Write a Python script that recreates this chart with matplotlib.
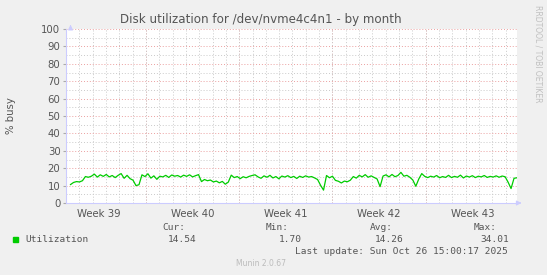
import numpy as np
import matplotlib.pyplot as plt

# Munin disk utilization, by month (time in days since Mon 29 Sep 2025 00:00)
t_start, t_end = -5.66, 27.85
utilization = [
    10.6, 11.8, 12.3, 12.1, 12.8, 15.2, 14.8, 15.4, 16.6, 14.9,
    16.2, 15.3, 16.4, 15.0, 15.8, 14.6, 15.9, 16.9, 14.2, 15.9,
    14.0, 13.1, 10.0, 10.5, 16.2, 15.2, 16.8, 14.3, 15.6, 13.6,
    15.4, 15.0, 15.9, 14.7, 16.1, 15.4, 15.8, 14.9, 16.0, 15.3,
    16.2, 15.0, 15.7, 16.3, 12.3, 13.5, 12.8, 13.2, 12.1, 12.6,
    11.6, 12.4, 10.8, 12.0, 16.0, 14.6, 15.2, 14.0, 15.1, 14.5,
    15.3, 15.8, 16.2, 15.0, 14.2, 15.6, 14.8, 15.9, 14.4, 15.2,
    13.9, 15.5, 14.9, 15.7, 14.6, 15.3, 14.1, 15.4, 14.7, 15.6,
    14.9, 15.2, 14.4, 13.5, 10.2, 7.4, 15.8, 14.5, 15.4, 13.0,
    12.5, 11.5, 12.6, 12.2, 13.1, 15.2, 14.3, 15.9, 15.0, 16.3,
    14.8, 15.6, 14.7, 13.8, 9.4, 15.5, 16.2, 15.0, 16.4, 15.1,
    15.8, 17.6, 15.4, 15.9, 14.8, 13.2, 9.6, 13.8, 16.9, 15.3,
    14.6, 15.4, 14.9, 15.8, 14.5, 15.2, 14.7, 15.9, 14.6, 15.3,
    14.8, 16.0, 14.4, 15.5, 14.9, 15.7, 14.6, 15.4, 15.0, 15.8,
    14.7, 15.3, 14.9, 15.6, 14.8, 15.5, 15.1, 12.0, 8.3, 14.2,
    14.5,
]
week_starts = [-7, 0, 7, 14, 21, 28]
week_labels = ['Week 39', 'Week 40', 'Week 41', 'Week 42', 'Week 43']
stats_names = ['Cur:', 'Min:', 'Avg:', 'Max:']
stats_values = ['14.54', '1.70', '14.26', '34.01']

W, H = 547, 275
GREEN = '#00cc00'
TXT = '#555555'
MAJOR = '#eba0a0'
MINOR = '#cacaca'


def px(x, y):
    return x / W, 1 - y / H


fig = plt.figure(figsize=(W / 100, H / 100), dpi=100, facecolor='#f0f0f0')
ax = fig.add_axes([66 / W, 72 / H, 451 / W, 174 / H])
ax.set_facecolor('white')

times = np.linspace(t_start, t_end, len(utilization))
ax.plot(times, utilization, color=GREEN, lw=0.9, zorder=3)

ax.set_xlim(t_start, t_end)
ax.set_ylim(0, 100)

# grid: minor per day / 5 %, major per week / 10 %
days = np.arange(-6, 28)
ax.set_xticks(days, minor=True)
ax.set_yticks(np.arange(0, 101, 10))
ax.set_yticks(np.arange(5, 100, 10), minor=True)
ax.grid(which='minor', color=MINOR, ls=(0, (1, 2)), lw=0.7)
ax.grid(which='major', axis='y', color=MAJOR, ls=(0, (1, 2)), lw=0.7)
for w in week_starts:
    if t_start < w < t_end:
        ax.axvline(w, color=MAJOR, ls=(0, (1, 2)), lw=0.7, zorder=1)

mids = [w + 3.5 for w in week_starts[:-1]]
ax.set_xticks(mids, week_labels)
ax.tick_params(axis='x', which='major', length=0, pad=4, labelsize=7.3, labelcolor=TXT)
ax.tick_params(axis='x', which='minor', length=0)
ax.tick_params(axis='y', which='major', length=2, color='#aaaaaa', pad=2,
               labelsize=7.3, labelcolor=TXT)
ax.tick_params(axis='y', which='minor', length=0)

for s in ['top', 'right']:
    ax.spines[s].set_visible(False)
for s in ['left', 'bottom']:
    ax.spines[s].set_color('#ccccff')
    ax.spines[s].set_linewidth(0.8)

# axis arrows
ax.annotate('', xy=(t_start, 104), xytext=(t_start, 99.5), annotation_clip=False,
            arrowprops=dict(arrowstyle='-|>', color='#ccccff', lw=0.8, mutation_scale=7))
ax.annotate('', xy=(t_end + 0.55, 0), xytext=(t_end - 0.05, 0), annotation_clip=False,
            arrowprops=dict(arrowstyle='-|>', color='#ccccff', lw=0.8, mutation_scale=7))

fig.text(*px(261, 19), 'Disk utilization for /dev/nvme4c4n1 - by month',
         ha='center', va='center', fontsize=8.6, color=TXT)
fig.text(*px(11, 116), '% busy', rotation=90, ha='center', va='center',
         fontsize=7.3, color=TXT)
fig.text(*px(538, 5), 'RRDTOOL / TOBI OETIKER', rotation=270, ha='center', va='top',
         fontsize=5.5, color='#c0c0c0')

# legend
mono = 'DejaVu Sans Mono'
fig.patches.append(plt.Rectangle(px(13, 242), 5 / W, 5 / H, color=GREEN,
                                 transform=fig.transFigure, figure=fig))
fig.text(*px(25, 240), 'Utilization', family=mono, fontsize=6.8,
         color=TXT, va='center')
name_right = [185, 289, 393, 497]
val_right = [197, 302, 404, 509]
for name, val, xn, xv in zip(stats_names, stats_values, name_right, val_right):
    fig.text(*px(xn, 227), name, family=mono, fontsize=6.8, color=TXT,
             ha='right', va='center')
    fig.text(*px(xv, 240), val, family=mono, fontsize=6.8, color=TXT,
             ha='right', va='center')
fig.text(*px(508, 252), 'Last update: Sun Oct 26 15:00:17 2025', family=mono,
         fontsize=6.8, color=TXT, ha='right', va='center')
fig.text(*px(261, 264), 'Munin 2.0.67', fontsize=5.5, color='#bbbbbb',
         ha='center', va='center')

fig.savefig('out.png', dpi=100, facecolor=fig.get_facecolor())
